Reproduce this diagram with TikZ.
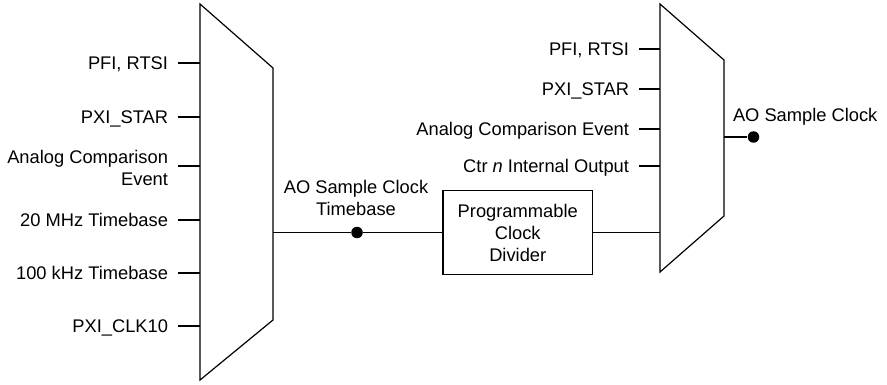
\documentclass[tikz,border=0pt]{standalone}
\usepackage{fontspec}
\setmainfont{Liberation Sans}
\begin{document}
\begin{tikzpicture}[x=1pt,y=-1pt,line width=1.2pt,
  lbl/.style={font=\fontsize{18.3pt}{22pt}\selectfont, inner sep=0pt, outer xsep=10pt, text height=13.1pt, text depth=0pt, anchor=east},
  lbltwo/.style={font=\fontsize{18.3pt}{22.5pt}\selectfont, inner sep=0pt, outer xsep=10pt},
  divbox/.style={draw, font=\fontsize{18.3pt}{22pt}\selectfont, align=center, minimum width=149.5pt, minimum height=84pt, inner sep=0pt},
  dotnode/.style={circle, fill=black, inner sep=0pt, minimum size=11.5pt}]
\useasboundingbox (0,0) rectangle (887,385);
% left multiplexer
\draw (200,4) -- (273,68) -- (273,320) -- (200,380) -- cycle;
\coordinate (m1i1) at (200,63);
\coordinate (m1i2) at (200,117);
\coordinate (m1i3) at (200,166);
\coordinate (m1i4) at (200,220);
\coordinate (m1i5) at (200,273);
\coordinate (m1i6) at (200,326);
\coordinate (m1o) at (273,232.5);
\node[lbl] (la1) at (178,63) {PFI, RTSI};
\node[lbl] (la2) at (178,117) {PXI\_STAR};
\node[lbltwo, anchor=south east, align=right] (la3) at (178,186.5) {Analog Comparison\\Event};
\node[lbl] (la4) at (178,220) {20 MHz Timebase};
\node[lbl] (la5) at (178,273) {100 kHz Timebase};
\node[lbl] (la6) at (178,326) {PXI\_CLK10};
\draw (la1.east) -- (m1i1);
\draw (la2.east) -- (m1i2);
\draw (la3.east |- m1i3) -- (m1i3);
\draw (la4.east) -- (m1i4);
\draw (la5.east) -- (m1i5);
\draw (la6.east) -- (m1i6);
% divider
\node[divbox] (div) at (517.75,232.5) {Programmable\\Clock\\Divider};
\node[dotnode] (tbdot) at (357,232.5) {};
\node[lbltwo, outer xsep=0pt, anchor=south, align=center] (tblbl) at (356,216.5) {AO Sample Clock\\Timebase};
\draw (m1o) -- (tbdot) -- (div.west |- m1o);
% right multiplexer
\draw (660,4) -- (724,60) -- (724,216) -- (660,272) -- cycle;
\coordinate (m2i1) at (660,49);
\coordinate (m2i2) at (660,89);
\coordinate (m2i3) at (660,129);
\coordinate (m2i4) at (660,166);
\coordinate (m2i5) at (660,232.5);
\coordinate (m2o) at (724,137);
\node[lbl] (lb1) at (639,49) {PFI, RTSI};
\node[lbl] (lb2) at (639,89) {PXI\_STAR};
\node[lbl] (lb3) at (639,129) {Analog Comparison Event};
\node[lbl] (lb4) at (639,166) {Ctr \textit{n} Internal Output};
\draw (lb1.east) -- (m2i1);
\draw (lb2.east) -- (m2i2);
\draw (lb3.east) -- (m2i3);
\draw (lb4.east) -- (m2i4);
\draw (div.east |- m2i5) -- (m2i5);
\node[dotnode] (odot) at (753.5,137) {};
\draw (m2o) -- (odot);
\node[lbl, outer xsep=0pt, anchor=base west] (olbl) at (733,121.5) {AO Sample Clock};
\end{tikzpicture}
\end{document}
